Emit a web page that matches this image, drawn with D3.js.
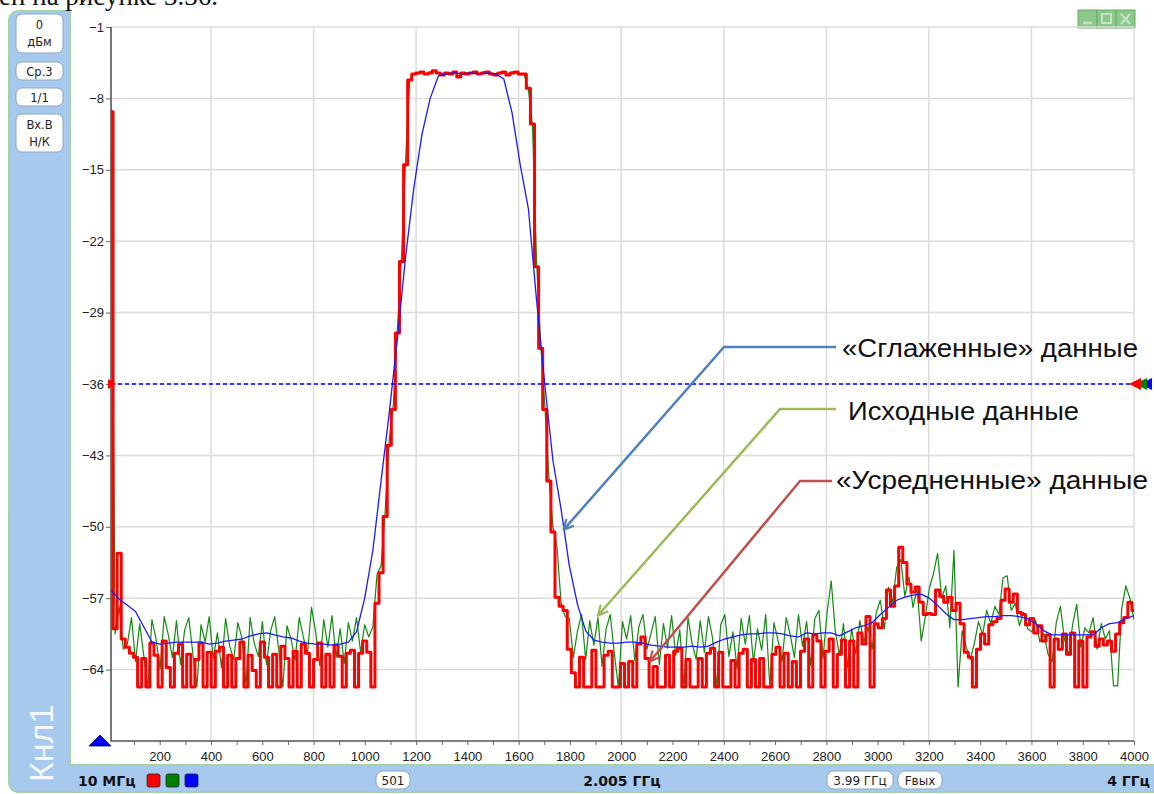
<!DOCTYPE html>
<html>
<head>
<meta charset="utf-8">
<script src="https://cdn.jsdelivr.net/npm/d3@7/dist/d3.min.js"></script>
<style>
  html, body { margin: 0; padding: 0; background: #fff; overflow: hidden; }
  svg { display: block; }
</style>
</head>
<body>
<svg id="chart" width="1154" height="794"></svg>
<script>
// ---- Sweep settings (MHz) ----
const sweepStartMHz = 10;
const sweepStopMHz = 4000;
const sweepPoints = 501;

// ---- Axis ticks ----
const levelTicks = [-64, -57, -50, -43, -36, -29, -22, -15, -8, -1];
const freqLabelTicks = [200, 400, 600, 800, 1000, 1200, 1400, 1600, 1800, 2000,
  2200, 2400, 2600, 2800, 3000, 3200, 3400, 3600, 3800, 4000];
const freqMinorTicks = [100, 300, 500, 700, 900, 1100, 1300, 1500, 1700, 1900,
  2100, 2300, 2500, 2700, 2900, 3100, 3300, 3500, 3700, 3900];
const freqGridTicks = [400, 800, 1200, 1600, 2000, 2400, 2800, 3200, 3600, 4000];
const markerLevel = -36;

// ---- Traces, dBm (every 2nd sweep point) ----
// Raw data (green)
const rawTrace = [
  -9.3, -60.5, -57.8, -62.0, -61.5, -58.9, -63.2, -59.5, -62.6, -65.7,
  -59.1, -61.0, -63.9, -58.8, -60.6, -62.8, -59.2, -63.5, -60.1, -58.9,
  -62.4, -65.7, -59.6, -61.3, -58.8, -62.9, -60.4, -63.8, -59.0, -61.7,
  -63.0, -59.4, -60.9, -65.5, -58.9, -61.4, -62.7, -59.3, -63.5, -60.2,
  -58.8, -62.1, -65.7, -59.7, -61.0, -63.1, -58.9, -60.8, -62.5, -57.9,
  -60.3, -63.6, -59.1, -61.8, -58.7, -62.8, -60.0, -63.4, -59.4, -61.2,
  -58.9, -62.3, -59.6, -60.8, -59.8, -54.7, -53.8, -48.5, -41.5, -38.0,
  -30.5, -23.5, -14.0, -6.3, -5.6, -5.5, -5.5, -5.6, -5.4, -5.4,
  -5.5, -5.6, -5.6, -5.5, -5.4, -5.8, -5.6, -5.5, -5.5, -5.5,
  -5.6, -5.4, -5.5, -5.6, -5.6, -5.5, -5.5, -5.6, -5.4, -5.5,
  -5.6, -5.7, -7.1, -10.6, -24.0, -32.0, -38.0, -45.0, -50.0, -52.0,
  -57.5, -58.8, -59.0, -62.8, -60.2, -58.6, -63.0, -59.2, -61.6, -58.9,
  -63.7, -60.0, -58.6, -62.4, -65.7, -59.3, -61.0, -58.7, -63.1, -59.8,
  -58.6, -62.0, -60.4, -58.8, -63.5, -59.5, -61.9, -58.7, -62.6, -60.1,
  -65.7, -58.9, -61.4, -63.0, -59.2, -62.3, -58.8, -60.9, -65.7, -59.6,
  -58.6, -62.7, -60.3, -63.9, -59.0, -61.5, -58.7, -63.3, -60.0, -62.1,
  -58.6, -65.7, -59.4, -61.1, -63.2, -58.9, -60.6, -62.8, -58.6, -61.7,
  -59.3, -63.6, -59.0, -58.2, -62.9, -58.4, -55.3, -60.2, -62.6, -59.5,
  -63.8, -60.0, -62.4, -59.2, -61.3, -59.8, -62.0, -58.4, -57.2, -60.0,
  -55.9, -57.4, -54.0, -53.2, -56.8, -54.9, -57.9, -56.0, -61.2, -58.8,
  -56.0, -54.6, -52.6, -57.0, -55.8, -59.9, -52.3, -65.7, -60.2, -61.8,
  -63.0, -61.4, -59.3, -60.6, -58.2, -59.5, -57.8, -58.6, -55.0, -54.8,
  -58.2, -57.5, -59.7, -58.4, -60.0, -60.3, -59.2, -61.3, -60.5, -62.5,
  -63.2, -59.4, -57.8, -61.0, -62.6, -59.6, -57.6, -61.8, -59.9, -60.4,
  -58.9, -62.0, -59.5, -61.0, -60.2, -65.6, -65.6, -58.0, -55.8, -57.0,
  -59.1
];

// Averaged data (red)
const averagedTrace = [
  -9.3, -60.0, -52.6, -61.0, -61.8, -62.4, -62.8, -65.7, -62.9, -65.7,
  -61.4, -62.6, -65.7, -61.2, -63.8, -65.7, -62.4, -61.5, -65.7, -62.5,
  -65.7, -63.0, -61.4, -65.7, -62.3, -65.7, -62.2, -61.8, -65.7, -62.6,
  -65.7, -62.9, -61.3, -65.7, -62.6, -64.1, -65.7, -61.3, -62.8, -65.7,
  -62.5, -65.7, -61.7, -62.9, -65.7, -62.2, -65.7, -61.5, -62.4, -65.7,
  -63.0, -61.4, -65.7, -62.5, -65.7, -61.6, -62.7, -65.7, -62.4, -62.1,
  -65.7, -62.4, -61.2, -62.3, -65.7, -57.5, -54.5, -49.0, -42.0, -38.5,
  -31.0, -24.0, -14.5, -6.2, -5.6, -5.5, -5.4, -5.6, -5.5, -5.3,
  -5.5, -5.7, -5.5, -5.6, -5.4, -5.9, -5.5, -5.6, -5.5, -5.4,
  -5.6, -5.5, -5.4, -5.6, -5.7, -5.5, -5.4, -5.7, -5.5, -5.4,
  -5.6, -5.6, -7.0, -10.5, -24.5, -32.5, -38.5, -45.5, -50.5, -56.9,
  -57.8, -58.2, -62.0, -64.3, -65.7, -62.8, -65.7, -65.7, -62.1, -65.7,
  -65.7, -62.6, -62.2, -65.7, -65.7, -63.4, -65.7, -63.2, -65.7, -61.5,
  -60.8, -62.9, -65.7, -63.7, -65.7, -65.7, -62.6, -65.7, -62.2, -61.9,
  -65.7, -63.0, -65.7, -65.7, -62.9, -65.7, -62.4, -61.9, -65.7, -62.3,
  -65.7, -65.7, -63.1, -65.7, -62.4, -62.0, -65.7, -63.0, -65.7, -62.9,
  -65.7, -65.7, -62.5, -61.8, -65.7, -62.4, -65.7, -63.2, -65.7, -62.2,
  -61.0, -65.7, -60.6, -61.2, -65.7, -62.2, -61.0, -65.7, -62.5, -61.1,
  -65.7, -61.2, -65.7, -60.4, -61.5, -58.8, -65.7, -59.5, -59.9, -59.0,
  -56.2, -57.8, -55.8, -52.0, -53.5, -55.6, -56.4, -55.9, -57.4, -58.6,
  -58.5, -58.6, -56.2, -56.8, -57.4, -56.9, -58.2, -57.5, -59.5, -62.3,
  -62.8, -65.7, -62.0, -60.5, -61.5, -59.6, -59.3, -59.0, -57.2, -56.1,
  -57.4, -56.6, -58.4, -58.6, -59.6, -59.0, -60.4, -59.7, -61.2, -60.6,
  -65.7, -61.0, -62.0, -60.5, -62.5, -60.4, -65.7, -61.2, -65.7, -60.8,
  -60.3, -61.7, -61.0, -61.6, -61.2, -62.2, -60.5, -59.4, -58.9, -57.4,
  -58.2
];

// Smoothed data (blue), every 4th sweep point
const smoothedTrace = [
  -56.2, -57.1, -57.7, -58.3, -59.8, -61.3, -61.5, -61.4, -61.3, -61.3,
  -61.3, -61.3, -61.5, -61.4, -61.2, -61.1, -61.0, -60.7, -60.5, -60.4,
  -60.6, -60.8, -60.9, -61.2, -61.4, -61.5, -61.5, -61.6, -61.5, -61.3,
  -60.3, -57.0, -52.3, -45.5, -38.8, -31.5, -23.5, -16.8, -11.5, -8.0,
  -5.8, -5.6, -5.5, -5.6, -5.5, -5.6, -5.5, -5.6, -6.1, -9.4,
  -14.5, -18.8, -27.8, -36.0, -43.5, -48.3, -53.8, -57.6, -60.2, -61.1,
  -61.3, -61.4, -61.4, -61.3, -61.3, -61.4, -61.6, -61.7, -61.8, -61.8,
  -61.8, -61.7, -61.8, -61.7, -61.3, -61.0, -60.8, -60.6, -60.5, -60.5,
  -60.4, -60.4, -60.5, -60.7, -60.8, -60.4, -60.5, -60.4, -60.4, -60.7,
  -60.3, -59.9, -59.7, -59.4, -58.6, -57.9, -57.2, -56.9, -56.7, -56.6,
  -57.0, -57.7, -58.5, -59.1, -59.1, -59.0, -58.9, -58.8, -58.8, -58.7,
  -58.7, -58.8, -59.0, -59.5, -60.2, -60.6, -60.6, -60.6, -60.6, -60.6,
  -60.6, -59.9, -59.5, -59.4, -59.0, -58.7
];

// Callout labels
const callouts = [
  { text: "«Сглаженные» данные", color: "#4f81bd" },
  { text: "Исходные данные", color: "#9bbb59" },
  { text: "«Усредненные» данные", color: "#c0504d" }
];

// ---- Layout ----
const svg = d3.select("#chart");
const plot = { left: 111, right: 1134, top: 27, bottom: 741 };

const x = d3.scaleLinear().domain([sweepStartMHz, sweepStopMHz]).range([plot.left, plot.right]);
const y = d3.scaleLinear().domain([-71, -1]).range([plot.bottom, plot.top]);

// frequency of the i-th sample in a trace of n samples spread over the sweep
const freqOf = (i, n) => sweepStartMHz + i * (sweepStopMHz - sweepStartMHz) / (n - 1);

const uiFont = "'DejaVu Sans', Verdana, sans-serif";
const axisFont = "'Liberation Sans', Arial, sans-serif";

// Instrument window frame
svg.append("rect")
  .attr("x", 9).attr("y", 11).attr("width", 1170).attr("height", 781)
  .attr("rx", 9)
  .attr("fill", "#a7c9ee")
  .attr("stroke", "#a6d3a6").attr("stroke-width", 2);

// White plotting panel
svg.append("rect")
  .attr("x", 70).attr("y", 10).attr("width", 1100).attr("height", 755)
  .attr("fill", "#ffffff");
svg.append("path")
  .attr("d", "M70,12 V765 H1160")
  .attr("fill", "none").attr("stroke", "#a6d3a6").attr("stroke-width", 2);

// Page text line above the instrument window
svg.append("text")
  .attr("x", -1).attr("y", 5)
  .attr("font-family", "'Liberation Serif', 'Times New Roman', serif")
  .attr("font-size", 27)
  .attr("fill", "#111")
  .text("ен на рисунке 3.36.");

// Window buttons (minimise / maximise / close)
const winBtns = svg.append("g");
[0, 1, 2].forEach(k => {
  const bx = 1078 + k * 19;
  winBtns.append("rect")
    .attr("x", bx).attr("y", 10).attr("width", 19).attr("height", 18)
    .attr("fill", "#8cc78c").attr("stroke", "#6aa96a").attr("stroke-width", 1);
});
winBtns.append("path").attr("d", "M1083,23 H1092").attr("stroke", "#c4e4c4").attr("stroke-width", 2.5);
winBtns.append("rect").attr("x", 1102).attr("y", 14).attr("width", 9).attr("height", 9)
  .attr("fill", "none").attr("stroke", "#c4e4c4").attr("stroke-width", 2);
winBtns.append("path").attr("d", "M1121,14 L1130,24 M1130,14 L1121,24")
  .attr("stroke", "#c4e4c4").attr("stroke-width", 2.2);

// Left control column buttons
const sideBtns = [
  { y: 14, h: 39, lines: ["0", "дБм"] },
  { y: 62, h: 18, lines: ["Ср.3"] },
  { y: 88, h: 18, lines: ["1/1"] },
  { y: 114, h: 38, lines: ["Вх.В", "Н/К"] }
];
sideBtns.forEach(b => {
  svg.append("rect")
    .attr("x", 16).attr("y", b.y).attr("width", 47).attr("height", b.h)
    .attr("rx", 6)
    .attr("fill", "#ffffff").attr("stroke", "#8ea7c4").attr("stroke-width", 1);
  b.lines.forEach((t, k) => {
    svg.append("text")
      .attr("x", 39.5)
      .attr("y", b.lines.length === 1 ? b.y + 13.5 : b.y + 15 + k * 17)
      .attr("text-anchor", "middle")
      .attr("font-family", uiFont).attr("font-size", 11.5)
      .attr("fill", "#222")
      .text(t);
  });
});

// Channel caption
svg.append("text")
  .attr("transform", "translate(53,782) rotate(-90)")
  .attr("font-family", axisFont).attr("font-size", 34)
  .attr("fill", "#f4f8fd")
  .text("Кнл1");

// ---- Grid ----
const grid = svg.append("g").attr("stroke", "#dcdcdc").attr("stroke-width", 1.5);
levelTicks.forEach(v => {
  grid.append("line")
    .attr("x1", plot.left).attr("x2", plot.right)
    .attr("y1", y(v)).attr("y2", y(v));
});
freqGridTicks.forEach(f => {
  grid.append("line")
    .attr("x1", x(f)).attr("x2", x(f))
    .attr("y1", plot.top).attr("y2", plot.bottom);
});

// ---- Axes ----
const yAxis = svg.append("g")
  .attr("transform", `translate(${plot.left},0)`)
  .call(d3.axisLeft(y).tickValues(levelTicks).tickSize(5).tickPadding(2).tickFormat(d3.format("d")));
yAxis.select(".domain").remove();
yAxis.selectAll("line").attr("stroke", "#666");
yAxis.selectAll("text").attr("font-family", axisFont).attr("font-size", 13).attr("fill", "#222");

const allFreqTicks = freqLabelTicks.concat(freqMinorTicks).sort((a, b) => a - b);
const xAxis = svg.append("g")
  .attr("transform", `translate(0,${plot.bottom})`)
  .call(d3.axisBottom(x).tickValues(allFreqTicks).tickSize(4).tickPadding(7)
    .tickFormat(d => freqLabelTicks.includes(d) ? String(d) : ""));
xAxis.select(".domain").remove();
xAxis.selectAll("line").attr("stroke", "#666");
xAxis.selectAll("text").attr("font-family", axisFont).attr("font-size", 13).attr("fill", "#222");

svg.append("path")
  .attr("d", `M${plot.left},${plot.top} V${plot.bottom} H${plot.right}`)
  .attr("fill", "none").attr("stroke", "#555").attr("stroke-width", 1.6);

// ---- Traces ----
svg.append("clipPath").attr("id", "plotClip")
  .append("rect")
  .attr("x", plot.left).attr("y", plot.top)
  .attr("width", plot.right - plot.left).attr("height", plot.bottom - plot.top);

const traces = svg.append("g").attr("clip-path", "url(#plotClip)");

function tracePath(values, curve) {
  const n = values.length;
  return d3.line()
    .x((d, i) => x(freqOf(i, n)))
    .y(d => y(d))
    .curve(curve)(values);
}

traces.append("path")
  .attr("d", tracePath(rawTrace, d3.curveLinear))
  .attr("fill", "none").attr("stroke", "#138a13").attr("stroke-width", 1.2)
  .attr("stroke-linejoin", "round");

// the averaged trace is held between samples, giving its blocky look
traces.append("path")
  .attr("d", tracePath(averagedTrace, d3.curveStep))
  .attr("fill", "none").attr("stroke", "#ff0000").attr("stroke-width", 3)
  .attr("stroke-linejoin", "round");

traces.append("path")
  .attr("d", tracePath(smoothedTrace, d3.curveLinear))
  .attr("fill", "none").attr("stroke", "#1a1aff").attr("stroke-width", 1.3)
  .attr("stroke-linejoin", "round");

// ---- Level marker ----
svg.append("line")
  .attr("x1", plot.left).attr("x2", 1130)
  .attr("y1", y(markerLevel)).attr("y2", y(markerLevel))
  .attr("stroke", "#0000ff").attr("stroke-width", 1.5).attr("stroke-dasharray", "4,3");

const my = y(markerLevel);
svg.append("path").attr("d", `M${plot.left - 3},${my - 5} L${plot.left + 5},${my} L${plot.left - 3},${my + 5} Z`)
  .attr("fill", "#ff0000");
[["#0000ff", 1140], ["#008000", 1135], ["#ff0000", 1129]].forEach(([c, tip]) => {
  svg.append("path")
    .attr("d", `M${tip},${my} L${tip + 12},${my - 6} L${tip + 12},${my + 6} Z`)
    .attr("fill", c);
});

// Zero-level marker
svg.append("path").attr("d", "M89,746 L111,746 L100,735 Z")
  .attr("fill", "#0000ff").attr("stroke", "#000066").attr("stroke-width", 0.8);

// ---- Bottom status bar ----
const barFont = uiFont;
svg.append("text").attr("x", 78).attr("y", 786)
  .attr("font-family", barFont).attr("font-size", 14).attr("font-weight", "bold")
  .attr("fill", "#111").text("10 МГц");
[["#ff0000", 147], ["#008000", 166], ["#0000ff", 185]].forEach(([c, sx]) => {
  svg.append("rect").attr("x", sx).attr("y", 774).attr("width", 13).attr("height", 13)
    .attr("rx", 2).attr("fill", c).attr("stroke", "#222").attr("stroke-width", 0.8);
});
const pill = (px, w, label) => {
  svg.append("rect").attr("x", px).attr("y", 771).attr("width", w).attr("height", 18)
    .attr("rx", 7).attr("fill", "#fff").attr("stroke", "#8ea7c4");
  svg.append("text").attr("x", px + w / 2).attr("y", 785)
    .attr("text-anchor", "middle")
    .attr("font-family", barFont).attr("font-size", 12).attr("fill", "#222").text(label);
};
pill(376, 34, "501");
pill(827, 66, "3.99 ГГц");
pill(898, 44, "Fвых");
svg.append("text").attr("x", 622).attr("y", 786).attr("text-anchor", "middle")
  .attr("font-family", barFont).attr("font-size", 14).attr("font-weight", "bold")
  .attr("fill", "#111").text("2.005 ГГц");
svg.append("text").attr("x", 1150).attr("y", 786).attr("text-anchor", "end")
  .attr("font-family", barFont).attr("font-size", 14).attr("font-weight", "bold")
  .attr("fill", "#111").text("4 ГГц");

// ---- Callouts ----
const defs = svg.append("defs");
callouts.forEach((c, k) => {
  defs.append("marker")
    .attr("id", "arrow" + k)
    .attr("viewBox", "0 0 12 12").attr("refX", 11).attr("refY", 6)
    .attr("markerWidth", 12).attr("markerHeight", 12)
    .attr("markerUnits", "userSpaceOnUse")
    .attr("orient", "auto")
    .append("path").attr("d", "M1,1 L11,6 L1,11")
    .attr("fill", "none").attr("stroke", c.color).attr("stroke-width", 2.2);
});

// leader geometry: label anchor, elbow, and the trace point the arrow lands on
const leaders = [
  { tx: 842, ty: 357, len: 296, pts: [[836, 347], [724, 347]], tipF: 1775, tipV: -50.3 },
  { tx: 848, ty: 420, len: 231, pts: [[836, 409], [780, 409]], tipF: 1909, tipV: -58.7 },
  { tx: 836, ty: 489, len: 312, pts: [[832, 481], [800, 481]], tipF: 2112, tipV: -63.2 }
];
leaders.forEach((l, k) => {
  const pts = l.pts.concat([[x(l.tipF), y(l.tipV)]]);
  svg.append("path")
    .attr("d", d3.line()(pts))
    .attr("fill", "none").attr("stroke", callouts[k].color).attr("stroke-width", 2.5)
    .attr("marker-end", `url(#arrow${k})`);
  svg.append("text")
    .attr("x", l.tx).attr("y", l.ty)
    .attr("font-family", axisFont).attr("font-size", 25)
    .attr("textLength", l.len).attr("lengthAdjust", "spacingAndGlyphs")
    .attr("fill", "#111")
    .text(callouts[k].text);
});
</script>
</body>
</html>
